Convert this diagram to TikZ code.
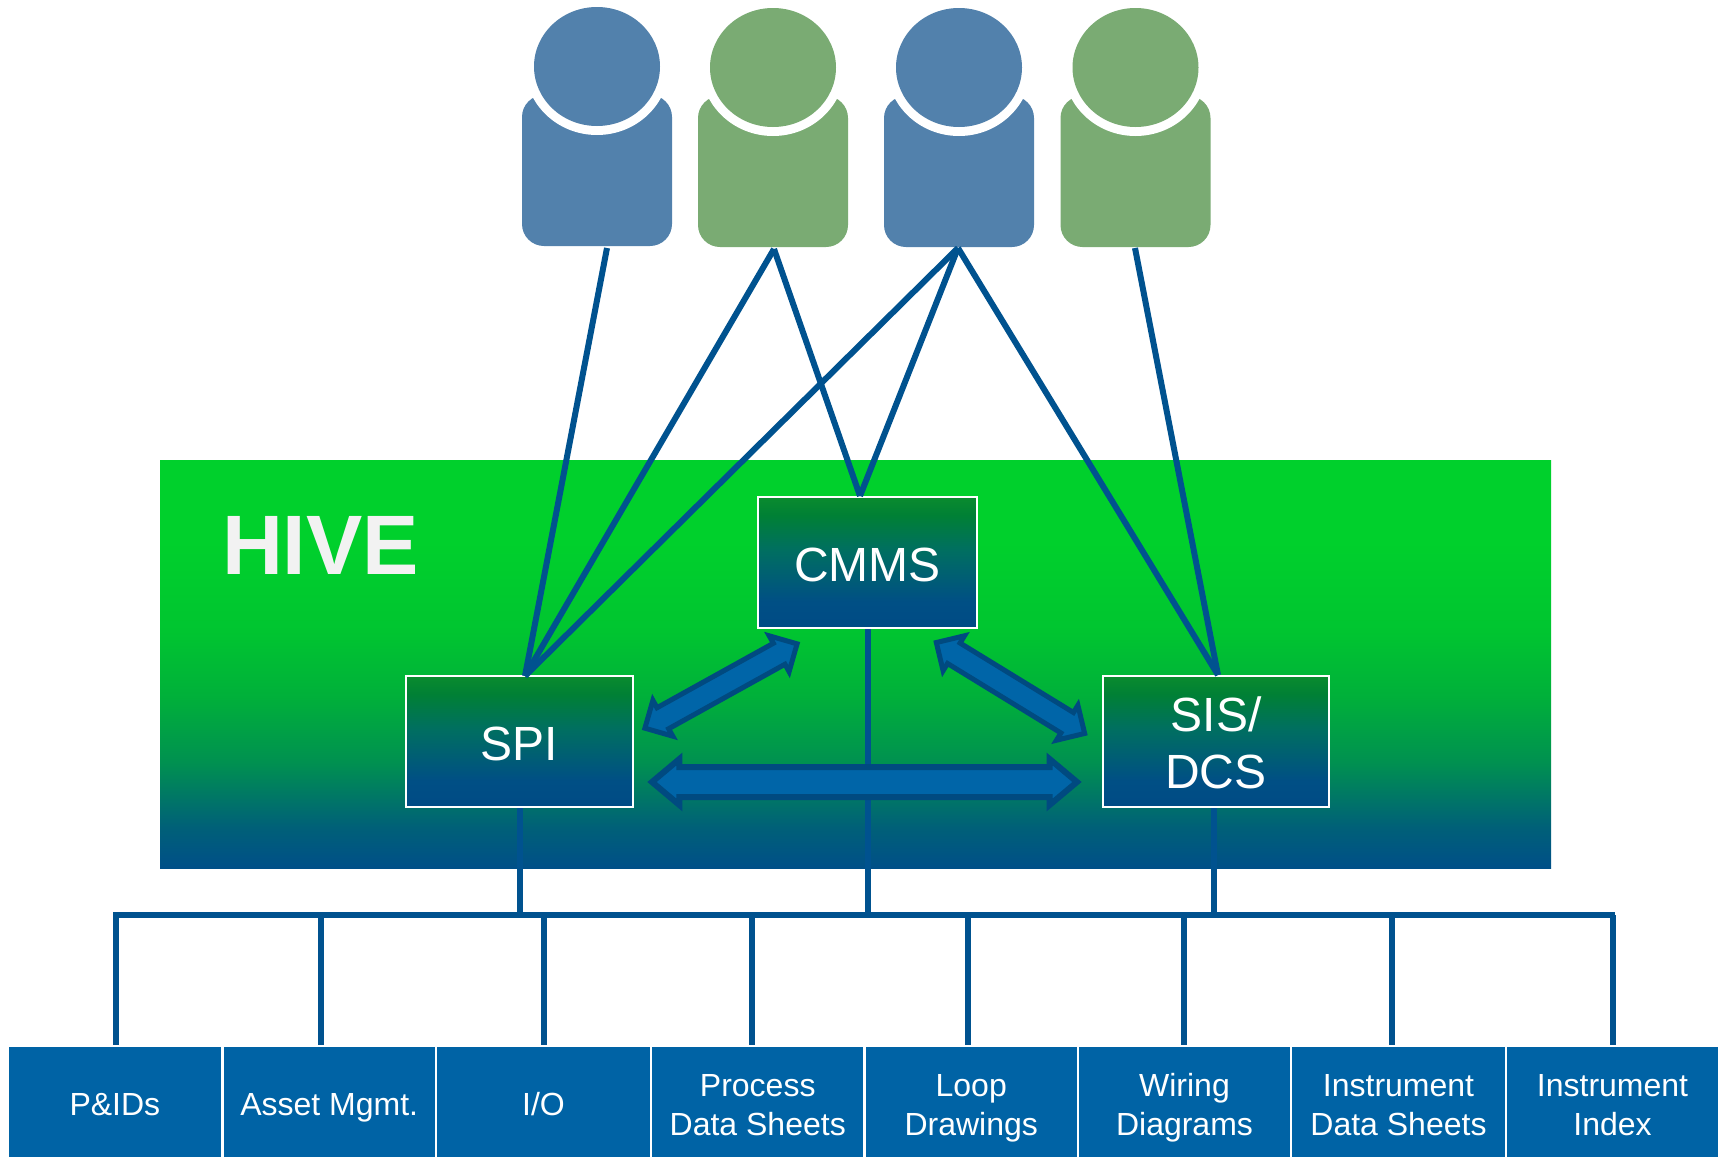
\documentclass[tikz,border=0pt]{standalone}
\usepackage{fontspec}
\setmainfont{Liberation Sans}
\usetikzlibrary{shapes.geometric,shapes.arrows}
\definecolor{ublue}{HTML}{5281AC}
\definecolor{ugreen}{HTML}{7AAB73}
\definecolor{wire}{HTML}{00528F}
\definecolor{tile}{HTML}{0063A5}
\definecolor{arrfill}{HTML}{0065A8}
\definecolor{arrline}{HTML}{004A80}
\definecolor{hivetext}{HTML}{F2F2F2}
\definecolor{HB0}{HTML}{004F88}
\definecolor{HB1}{HTML}{006078}
\definecolor{HB2}{HTML}{009150}
\definecolor{HB3}{HTML}{00B03A}
\definecolor{HB4}{HTML}{00C530}
\definecolor{HB5}{HTML}{00D02C}
\definecolor{BB0}{HTML}{004B85}
\definecolor{BB1}{HTML}{004F85}
\definecolor{BB2}{HTML}{006F60}
\definecolor{BB3}{HTML}{008035}
\definecolor{BB4}{HTML}{0A8B2E}
\pgfdeclareverticalshading{hiveshade}{100bp}{
  color(0bp)=(HB0); color(25bp)=(HB0); color(30bp)=(HB1); color(38bp)=(HB2);
  color(46bp)=(HB3); color(54bp)=(HB4); color(65bp)=(HB5); color(75bp)=(HB5); color(100bp)=(HB5)}
\pgfdeclareverticalshading{boxshade}{100bp}{
  color(0bp)=(BB0); color(25bp)=(BB0); color(35bp)=(BB1); color(55bp)=(BB2);
  color(68bp)=(BB3); color(75bp)=(BB4); color(100bp)=(BB4)}
\newcommand\tileline{\rule[-3.4pt]{0pt}{19.7pt}}
\newcommand\sysline{\rule[-4.9pt]{0pt}{28.5pt}}
\tikzset{
  pbody/.style={rectangle,rounded corners=11pt,minimum width=75pt,minimum height=75.5pt,inner sep=0pt,fill=#1},
  pgap/.style={ellipse,minimum width=72pt,minimum height=69pt,inner sep=0pt,fill=white},
  phead/.style={ellipse,minimum width=63pt,minimum height=59.5pt,inner sep=0pt,fill=#1},
  sysbox/.style={rectangle,inner sep=0pt,draw=white,line width=1.3pt,shading=boxshade,text=white,align=center,
     font=\fontsize{24}{28.5}\selectfont},
  tilebox/.style={rectangle,inner sep=0pt,fill=tile,draw=white,line width=1.2pt,text=white,align=center,
     minimum height=57pt,font=\fontsize{16}{19.7}\selectfont},
  wireline/.style={draw=wire,line width=3pt},
  bigarrow/.style={double arrow,double arrow head extend=4pt,double arrow tip angle=80,inner xsep=0pt,inner ysep=6pt,
     fill=arrfill,draw=arrline,line width=3pt,minimum height=212.5pt},
  diagarrow/.style={double arrow,double arrow head extend=4.25pt,double arrow tip angle=90,inner xsep=0pt,inner ysep=4.75pt,
     fill=arrfill,draw=arrline,line width=2.5pt,minimum height=87pt}
}
\begin{document}
\begin{tikzpicture}[x=0.5pt,y=-0.5pt]
\useasboundingbox (0,0) rectangle (1721,1157);
% people
\node[pbody=ublue]  (b1) at (597,170.5) {};
\node[pgap]         (g1) at (597,66) {};
\node[phead=ublue]  (h1) at (597,66.5) {};
\node[pbody=ugreen] (b2) at (773,171.5) {};
\node[pgap]         (g2) at (773,67) {};
\node[phead=ugreen] (h2) at (773,67.5) {};
\node[pbody=ublue]  (b3) at (959,171.5) {};
\node[pgap]         (g3) at (959,67) {};
\node[phead=ublue]  (h3) at (959,67.5) {};
\node[pbody=ugreen] (b4) at (1135.5,171.5) {};
\node[pgap]         (g4) at (1135.5,67) {};
\node[phead=ugreen] (h4) at (1135.5,67.5) {};
% hive
\node[rectangle,inner sep=0pt,minimum width=695.5pt,minimum height=204pt,shading=hiveshade] (hive) at (855.5,664) {};
\node[text=hivetext,inner sep=0pt,font=\bfseries\fontsize{42.2}{42.2}\selectfont] (hivelabel) at (320.5,545) {HIVE};
% systems
\node[sysbox,minimum width=109.5pt,minimum height=65.5pt] (cmms) at (867.5,562.5) {\sysline CMMS};
\node[sysbox,minimum width=113.5pt,minimum height=65.5pt] (spi) at (519.5,741.5) {\sysline SPI};
\node[sysbox,minimum width=113pt,minimum height=65.5pt] (sis) at (1216,741.5) {\sysline SIS/\\\sysline DCS};
% connection points
\coordinate (u1) at (607,248);
\coordinate (u2) at (774,249);
\coordinate (u3) at (958,248);
\coordinate (u4) at (1135,248);
\coordinate (spiT) at (525,676);
\coordinate (cmmsT) at (860,496);
\coordinate (sisT) at (1218,675);
\coordinate (busL) at (113,915);
\coordinate (busR) at (1615,915);
\coordinate (j1) at (116,915);
\coordinate (j2) at (321,915);
\coordinate (j3) at (544,915);
\coordinate (j4) at (752,915);
\coordinate (j5) at (968,915);
\coordinate (j6) at (1184,915);
\coordinate (j7) at (1392,915);
\coordinate (j8) at (1613,915);
\coordinate (sp) at (519.5,915);
\coordinate (cm) at (868,915);
\coordinate (si) at (1214,915);
% user links
\draw[wireline] (u1) -- (spiT);
\draw[wireline] (u2) -- (spiT);
\draw[wireline] (u3) -- (spiT);
\draw[wireline] (u2) -- (cmmsT);
\draw[wireline] (u3) -- (cmmsT);
\draw[wireline] (u3) -- (sisT);
\draw[wireline] (u4) -- (sisT);
% tiles
\node[tilebox,minimum width=107.6pt] (t1) at (114.9,1103) {\tileline P\&IDs};
\node[tilebox,minimum width=106.75pt] (t2) at (329.25,1103) {\tileline Asset Mgmt.};
\node[tilebox,minimum width=107.5pt] (t3) at (543.5,1103) {\tileline I/O};
\node[tilebox,minimum width=106.75pt] (t4) at (757.75,1103) {\tileline Process\\\tileline Data Sheets};
\node[tilebox,minimum width=106.75pt] (t5) at (971.25,1103) {\tileline Loop\\\tileline Drawings};
\node[tilebox,minimum width=106.5pt] (t6) at (1184.5,1103) {\tileline Wiring\\\tileline Diagrams};
\node[tilebox,minimum width=107.5pt] (t7) at (1398.5,1103) {\tileline Instrument\\\tileline Data Sheets};
\node[tilebox,minimum width=106.5pt] (t8) at (1612.5,1103) {\tileline Instrument\\\tileline Index};
% bus
\draw[wireline] (spi.south -| sp) -- (sp);
\draw[wireline] (cmms.south -| cm) -- (cm);
\draw[wireline] (sis.south -| si) -- (si);
\draw[wireline] (busL) -- (busR);
\draw[wireline] (j1) -- (j1 |- t1.north);
\draw[wireline] (j2) -- (j2 |- t2.north);
\draw[wireline] (j3) -- (j3 |- t3.north);
\draw[wireline] (j4) -- (j4 |- t4.north);
\draw[wireline] (j5) -- (j5 |- t5.north);
\draw[wireline] (j6) -- (j6 |- t6.north);
\draw[wireline] (j7) -- (j7 |- t7.north);
\draw[wireline] (j8) -- (j8 |- t8.north);
% arrows
\node[bigarrow] (a3) at (864.5,782) {};
\node[diagarrow,rotate=29] (a1) at (721,686) {};
\node[diagarrow,rotate=-31.5] (a2) at (1010.5,688) {};
\end{tikzpicture}
\end{document}
